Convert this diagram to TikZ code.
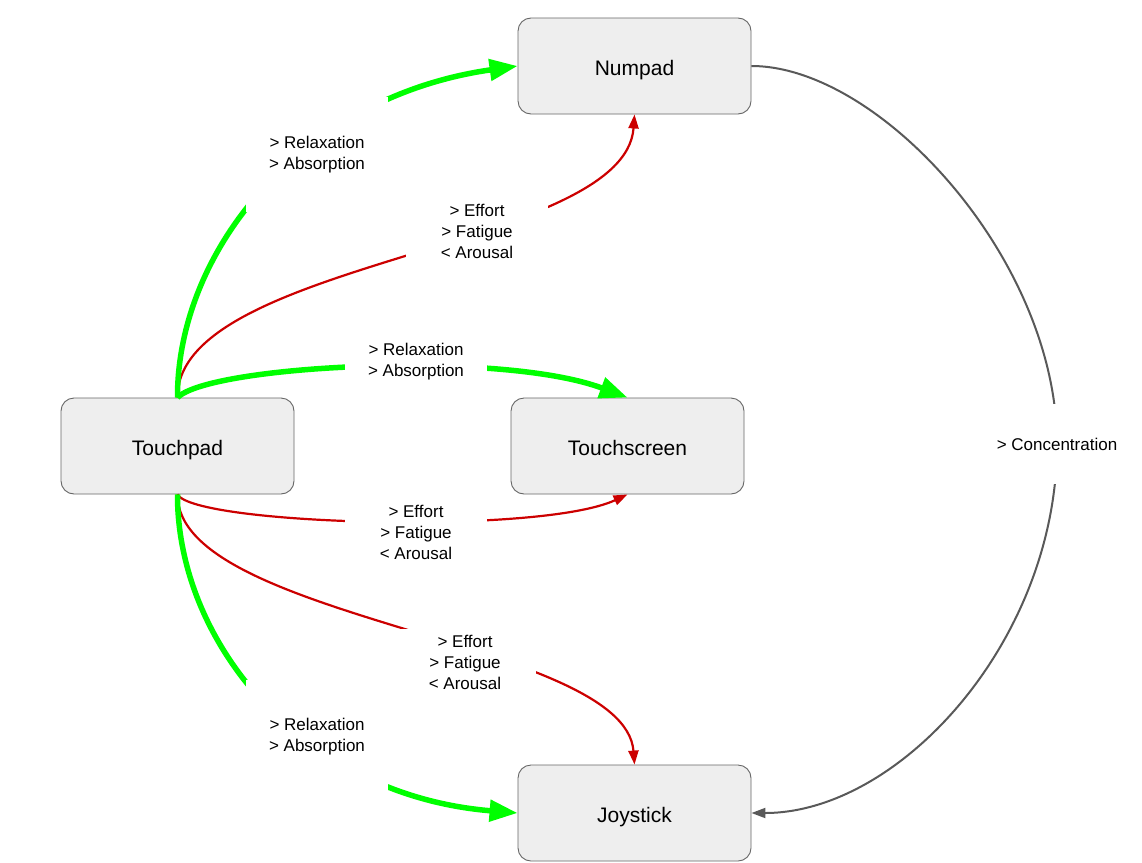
\documentclass[tikz,border=0pt]{standalone}
\usepackage{fontspec}
\setmainfont{Liberation Sans}
\usetikzlibrary{arrows.meta}
\definecolor{boxfill}{HTML}{EEEEEE}
\definecolor{boxline}{HTML}{666666}
\definecolor{goodgreen}{HTML}{00FF00}
\definecolor{badred}{HTML}{CC0000}
\definecolor{neutralgray}{HTML}{595959}

\begin{document}
\begin{tikzpicture}[x=1pt,y=-1pt,box/.style={draw=boxline, fill=boxfill, line width=0.9pt, rounded corners=13pt, minimum width=233pt, minimum height=96pt, inner sep=0pt, text height=18.5pt, text depth=0pt, font=\fontsize{21}{25}\selectfont},lbl/.style={fill=white, minimum width=142pt, inner sep=0pt, align=center, font=\fontsize{17}{21}\selectfont},good/.style={draw=goodgreen, line width=5.5pt, -{Triangle[length=28pt,width=21pt]}},bad/.style={draw=badred, line width=2.2pt, -{Triangle[length=14pt,width=10pt]}},neutral/.style={draw=neutralgray, line width=2pt, -{Triangle[length=14pt,width=10pt]}}]
\useasboundingbox (0,0) rectangle (1142,862);
\node[box] (np) at (634.5,66) {Numpad};\node[box] (tp) at (177.5,446) {Touchpad};\node[box] (ts) at (627.5,446) {Touchscreen};\node[box] (js) at (634.5,813) {Joystick};
% touchpad towards the others
\draw[bad] (tp.north) .. controls (177,260) and (625,250) .. (np.south);\draw[bad] (tp.south) .. controls (195,525) and (540,535) .. (ts.south);\draw[bad] (tp.south) .. controls (177,620) and (625,640) .. (js.north);
\draw[good] (tp.north) .. controls (177,252) and (300,97) .. (np.west);\draw[good] (tp.north) .. controls (210,365) and (500,350) .. (ts.north);\draw[good] (tp.south) .. controls (177,640) and (300,795) .. (js.west);
\draw[neutral] (np.east) .. controls (880,66) and (1057,260) .. (1057,444) .. controls (1057,640) and (900,813) .. (js.east);
% labels on top
\node[lbl, minimum height=115pt] (relax1) at (317,154.5) {> Relaxation\\> Absorption};\node[lbl, minimum height=40pt] (relax2) at (416,361.5) {> Relaxation\\> Absorption};\node[lbl, minimum height=115pt] (relax3) at (317,737) {> Relaxation\\> Absorption};
\node[lbl, minimum height=66pt] (effort1) at (477,231) {> Effort\\> Fatigue\\< Arousal};\node[lbl, minimum height=66pt] (effort2) at (416,532) {> Effort\\> Fatigue\\< Arousal};\node[lbl, minimum height=66pt] (effort3) at (465,662) {> Effort\\> Fatigue\\< Arousal};
\node[lbl, minimum height=80pt] (conc) at (1057,444) {> Concentration};
\end{tikzpicture}
\end{document}
